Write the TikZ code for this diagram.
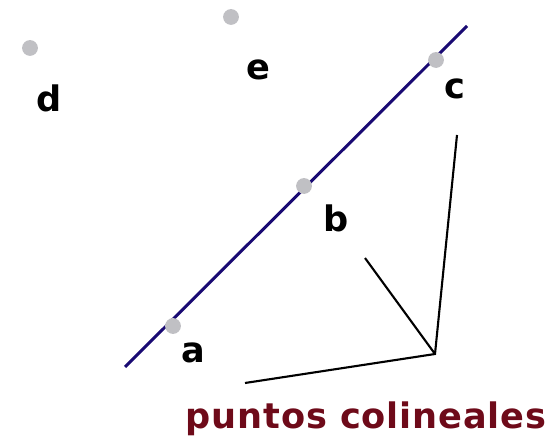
\documentclass[tikz,border=0pt]{standalone}
\usepackage{fontspec}
\setsansfont{DejaVu Sans}
\definecolor{lineNavy}{RGB}{25,10,115}
\definecolor{dotGray}{RGB}{192,192,196}
\definecolor{titleRed}{RGB}{110,10,25}
\usetikzlibrary{positioning}

\begin{document}
\begin{tikzpicture}[x=0.02cm, y=-0.02cm,
    pt/.style={circle, fill=dotGray, draw=none, minimum size=9pt,
               inner sep=0pt},
    lbl/.style={font=\sffamily\bfseries\fontsize{20}{24}\selectfont,
                anchor=base, inner sep=0pt},
    stroke/.style={black, line width=1.2pt}
  ]
  \useasboundingbox (0,0) rectangle (554,438);

  % the line through a, b, c
  \coordinate (lstart) at (125,367);
  \coordinate (lend) at (467,26);
  \draw[lineNavy, line width=1.7pt] (lstart) -- (lend);

  \node[pt] (pd) at (30,48) {};
  \node[pt] (pe) at (231,17) {};
  \node[pt] (pc) at (436,60) {};
  \node[pt] (pb) at (304,186) {};
  \node[pt] (pa) at (173,326) {};

  \node[lbl] (ld) at (49,112) {d};
  \node[lbl] (le) at (258,80) {e};
  \node[lbl] (lc) at (455,99) {c};
  \node[lbl] (lb) at (336,232) {b};
  \node[lbl] (la) at (193,363) {a};

  % pointer strokes
  \coordinate (tip) at (435,354);
  \coordinate (up) at (457,135);
  \coordinate (mid) at (365,258);
  \coordinate (low) at (245,383);
  \draw[stroke] (up) -- (tip) -- (low);
  \draw[stroke] (mid) -- (tip);

  \node[lbl, titleRed] (title) at (366,428)
    {\addfontfeature{LetterSpace=2.5}puntos colineales};
\end{tikzpicture}
\end{document}
